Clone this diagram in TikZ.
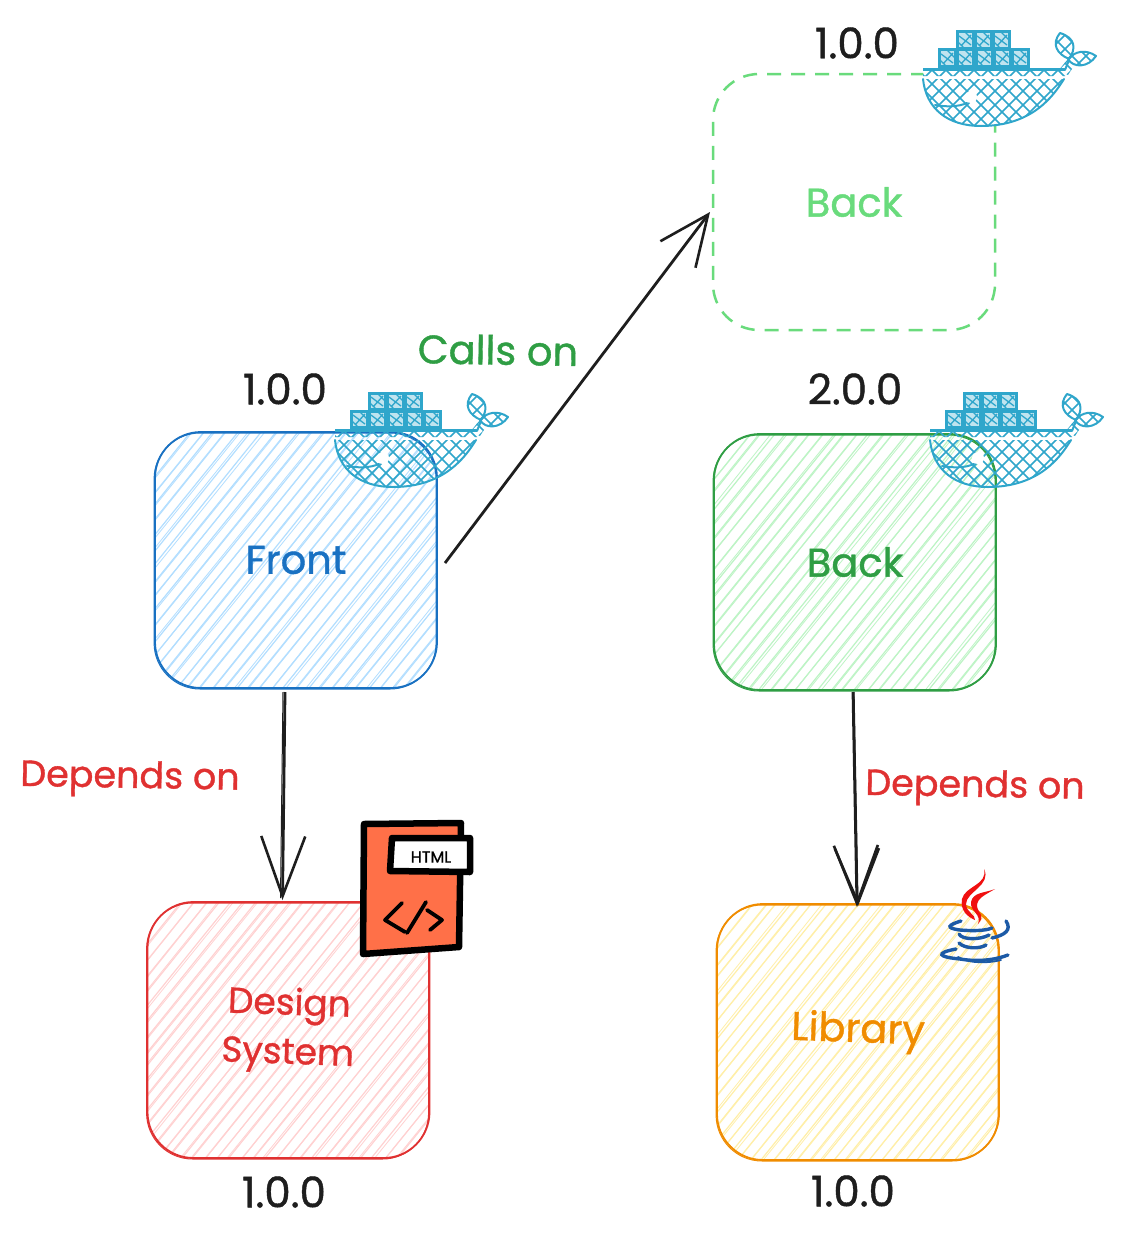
\documentclass[tikz,border=0pt]{standalone}
\usepackage{fontspec}
\setmainfont{Poppins}[FakeBold=0.7]
\newfontfamily\handf{Poppins}[FakeBold=1.0]
\usetikzlibrary{arrows.meta,calc}
\definecolor{txt}{HTML}{1E1E1E}
\definecolor{blueS}{HTML}{1971C2}\definecolor{blueF}{HTML}{A5D8FF}
\definecolor{greenS}{HTML}{2F9E44}\definecolor{greenF}{HTML}{B2F2BB}
\definecolor{redS}{HTML}{E03131}\definecolor{redF}{HTML}{FFC9C9}
\definecolor{orangeS}{HTML}{F08C00}\definecolor{orangeF}{HTML}{FFEC99}
\definecolor{lightG}{HTML}{69DB7C}
\definecolor{whaleC}{HTML}{2FA6CB}
\definecolor{htmlF}{HTML}{FF7048}
\definecolor{javaB}{HTML}{1C5AA6}
\definecolor{javaR}{HTML}{F01010}
\newcommand\hachure[1]{%
  \foreach \c in {-270,-258,...,290}{%
    \pgfmathsetmacro\ja{rand*1.6}\pgfmathsetmacro\jb{rand*1.6}%
    \draw[#1!85,line width=1.2pt] ([shift={(\c+\ja,4)}]path picture bounding box.south west) -- ++(250+\jb,-310);
    \pgfmathsetmacro\ja{rand*2.2}\pgfmathsetmacro\jb{rand*2.2}%
    \draw[#1!85,line width=.8pt] ([shift={(\c+\ja,4)}]path picture bounding box.south west) -- ++(250+\jb,-310);
  }%
}
\tikzset{
  x=1pt,y=-1pt,
  hand/.style={font=\handf\fontsize{36.5}{44}\selectfont,inner sep=0pt},
  version/.style={font=\handf\fontsize{42}{50}\selectfont,inner sep=0pt,text=txt},
  sbox/.style={rectangle,rounded corners=46pt,minimum width=282pt,minimum height=256pt,
    inner sep=0pt,outer sep=0pt,align=center,line width=1.8pt,font=\handf\fontsize{40}{50}\selectfont},
  hbox/.style n args={2}{sbox,draw=#1,text=#1,path picture={\hachure{#2}},
    postaction={draw=#1,line width=1pt,transform canvas={xshift=-.9pt,yshift=-1pt}}},
  dbox/.style={sbox,draw=lightG,text=lightG,line width=2.5pt,dash pattern=on 14pt off 10pt},
  conn/.style={draw=txt,line width=2.8pt,-{Straight Barb[length=#1,width=44pt,line width=2.6pt]}},
  wline/.style={draw=whaleC,line width=2pt,line join=round,line cap=round},
  whatch/.style={draw=whaleC,line width=1.6pt},
  iconline/.style={draw=black,line width=6.5pt,line join=round,line cap=round},
  codeline/.style={draw=black,line width=3.8pt,line join=round,line cap=round},
  javacup/.style={draw=javaB,line width=3.4pt,line cap=round},
}
\newcommand\whale[3]{%
\begin{scope}[shift={(#1,#2)}]
  \path[fill=#3] (335,431) -- (477,431) -- (476,440) .. controls (466,456) and (445,487) .. (393,487)
     .. controls (360,487) and (338,470) .. (335,431) -- cycle;
  \begin{scope}
    \clip (335,431) rectangle (477,437)
      (335,440) -- (476,440) .. controls (466,456) and (445,487) .. (393,487)
       .. controls (360,487) and (338,470) .. (335,440) -- cycle
      (480,420) -- (470,432) -- (480,436) -- (487,425) -- cycle
      (472,394) .. controls (488,399) and (488,410) .. (481,420) .. controls (469,415) and (463,405) .. (472,394) -- cycle
      (508,417) .. controls (498,410) and (487,412) .. (480,420) .. controls (485,429) and (500,429) .. (508,417) -- cycle;
    \foreach \c in {210,224,...,540}{
      \draw[whatch] (\c,495) -- ++(110,-110);
      \draw[whatch] (\c+100,495) -- ++(-110,-110);
    }
  \end{scope}
  \draw[whaleC,line width=3pt] (335,430.5) -- (477,430.5);
  \draw[wline] (335,440) .. controls (338,470) and (360,487) .. (393,487) .. controls (445,487) and (466,456) .. (476,440);
  \draw[wline] (477,431) -- (481,421);
  \draw[wline] (472,394) .. controls (488,399) and (488,410) .. (481,420) .. controls (469,415) and (463,405) .. (472,394) -- cycle;
  \draw[wline] (508,417) .. controls (498,410) and (487,412) .. (480,420) .. controls (485,429) and (500,429) .. (508,417) -- cycle;
  \fill[white] (383,458) circle (6);
  \draw[wline] (347,466) .. controls (358,468) and (370,468) .. (379,464);
  \foreach \px/\py in {369/393,387/393,405/393,351/411,369/411,388/411,406/411,424/411}{
    \draw[whaleC,line width=3pt,fill=whaleC,fill opacity=.3,draw opacity=1] (\px,\py) rectangle ++(16.5,16.5);
    \draw[whaleC,line width=1.3pt] (\px+2,\py+4) -- ++(12,9) (\px+14,\py+3) -- ++(-10,11) (\px+8,\py) -- ++(8,8) (\px,\py+9) -- ++(7,7);
  }
\end{scope}}
\begin{document}
\begin{tikzpicture}
\useasboundingbox[fill=white] (0,0) rectangle (1136,1239);
\pgfmathsetseed{4242}

\node[dbox] (backtop) at (854,202) {Back};
\node[hbox={blueS}{blueF}] (front) at (296,560) {Front};
\node[hbox={greenS}{greenF}] (back) at (855,562) {Back};
\node[hbox={redS}{redF},font=\handf\fontsize{36}{46}\selectfont] (design) at (288.5,1030) {\rotatebox{-2}{\begin{tabular}{@{}c@{}}Design\\[3pt]System\end{tabular}}};
\node[hbox={orangeS}{orangeF}] (library) at (858,1032) {\rotatebox{-2}{Library}};

\node[version] (vfront) at (285,389) {1.0.0};
\node[version] (vback) at (855,389) {2.0.0};
\node[version] (vtop) at (857,43) {1.0.0};
\node[version] (vdesign) at (284,1192) {1.0.0};
\node[version] (vlib) at (853,1191) {1.0.0};

\node[hand,text=greenS,rotate=-1,font=\handf\fontsize{40}{48}\selectfont] (calls) at (498,350) {Calls on};
\node[hand,text=redS,rotate=-1] (dep1) at (130,779) {Depends on};
\node[hand,text=redS,rotate=-1] (dep2) at (975,788) {Depends on};

\draw[conn=50pt] ([xshift=8pt,yshift=-3pt]front.east) -- ([xshift=-3pt,yshift=-10pt]backtop.west);
\draw[conn=60pt] ([xshift=-11pt,yshift=-4pt]front.south) -- ([xshift=-6pt,yshift=2pt]design.north);
\draw[draw=txt,line width=1pt] ([xshift=-13pt,yshift=-4pt]front.south) -- ([xshift=-8pt,yshift=4pt]design.north);
\draw[conn=58pt] ([xshift=-2pt,yshift=-2pt]back.south) -- ([xshift=-1pt,yshift=-3pt]library.north);
\draw[conn=54pt,line width=1.2pt] ([xshift=-1pt,yshift=-2pt]back.south) -- ([yshift=-2pt]library.north);

\whale{0}{0}{none}
\whale{595}{0}{none}
\whale{588}{-361}{white}

% HTML icon
\draw[iconline,fill=htmlF] (364,824) -- (461,823) -- (459,947) -- (363,954) -- cycle;
\draw[iconline,fill=white] (392,838) -- (470,838) -- (470,872) -- (390,871) -- cycle;
\node[inner sep=0pt,text=black,font=\handf\fontsize{16}{18}\selectfont] (htmltext) at (431,857) {HTML};
\draw[codeline] (402,903) -- (385,920) -- (405,932);
\draw[codeline] (426,902) -- (407,933);
\draw[codeline] (427,910) -- (442,920) -- (430,930);

% Java logo
\fill[javaR] (984,869) .. controls (992,885) and (966,892) .. (966,904)
   .. controls (966,912) and (976,915) .. (975,920)
   .. controls (968,917) and (960,911) .. (962,899)
   .. controls (965,886) and (988,885) .. (984,869) -- cycle;
\fill[javaR] (995,889) .. controls (985,895) and (977,898) .. (977,906)
   .. controls (978,914) and (986,915) .. (978,924)
   .. controls (982,914) and (970,912) .. (971,902)
   .. controls (973,892) and (985,893) .. (995,889) -- cycle;
\draw[javacup] (961,921) .. controls (948,925) and (945,928) .. (960,930) .. controls (972,931) and (985,931) .. (992,928);
\draw[javacup] (1006,921) .. controls (1012,930) and (1005,935) .. (992,938);
\draw[javacup] (959,934) .. controls (962,940) and (980,940) .. (989,935);
\draw[javacup] (959,943) .. controls (965,949) and (980,949) .. (986,945);
\draw[javacup] (956,949) .. controls (935,953) and (938,957) .. (960,959) .. controls (978,962) and (995,960) .. (1008,955);
\draw[javacup,line width=1.8pt] (958,957) .. controls (970,964) and (990,963) .. (1001,960);
\end{tikzpicture}
\end{document}
